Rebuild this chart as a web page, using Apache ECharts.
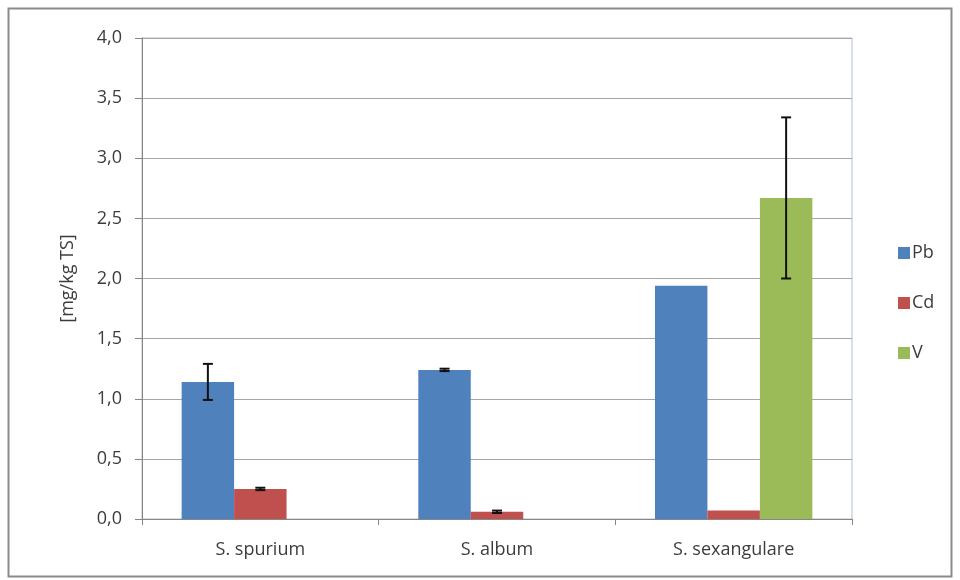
<!DOCTYPE html>
<html>
<head>
<meta charset="utf-8">
<script src="https://cdn.jsdelivr.net/npm/echarts@6/dist/echarts.min.js"></script>
<style>
html,body{margin:0;padding:0;background:#fff;}
#chart{width:960px;height:580px;}
</style>
</head>
<body>
<div id="chart"></div>
<script>
const categories = ['S. spurium', 'S. album', 'S. sexangulare'];
const seriesNames = ['Pb', 'Cd', 'V'];
const pbValues = [1.14, 1.24, 1.94];
const cdValues = [0.25, 0.06, 0.07];
const vValues = [null, null, 2.67];
const pbErrors = [0.15, 0.01, null];
const cdErrors = [0.01, 0.01, null];
const vErrors = [null, null, 0.67];
const yTicks = [0, 0.5, 1, 1.5, 2, 2.5, 3, 3.5, 4];
const colors = ['#4F81BD', '#C0504D', '#9BBB59'];

const values = [pbValues, cdValues, vValues];
const errors = [pbErrors, cdErrors, vErrors];
const CAT_GAP = 0.335;
const FONT = '"Open Sans", "Liberation Sans", sans-serif';
const TXT = '#3c3c3c';

function errorSeries(idx) {
  const data = [];
  categories.forEach((c, i) => {
    if (values[idx][i] != null && errors[idx][i] != null) {
      data.push([i, values[idx][i] - errors[idx][i], values[idx][i] + errors[idx][i]]);
    }
  });
  return {
    type: 'custom',
    name: seriesNames[idx] + '_err',
    z: 10,
    silent: true,
    data: data,
    encode: { x: 0, y: [1, 2] },
    renderItem: function (params, api) {
      const ci = api.value(0);
      const lo = api.coord([ci, api.value(1)]);
      const hi = api.coord([ci, api.value(2)]);
      const band = api.size([1, 0])[0];
      const bw = band * (1 - CAT_GAP) / 3;
      const x = lo[0] + (idx - 1) * bw;
      const cap = 5;
      const style = { stroke: '#111', lineWidth: 2 };
      return {
        type: 'group',
        children: [
          { type: 'line', shape: { x1: x, y1: lo[1], x2: x, y2: hi[1] }, style: style },
          { type: 'line', shape: { x1: x - cap, y1: lo[1], x2: x + cap, y2: lo[1] }, style: style },
          { type: 'line', shape: { x1: x - cap, y1: hi[1], x2: x + cap, y2: hi[1] }, style: style }
        ]
      };
    }
  };
}

const chart = echarts.init(document.getElementById('chart'));
chart.setOption({
  animation: false,
  backgroundColor: '#ffffff',
  textStyle: { fontFamily: FONT },
  graphic: [{
    type: 'rect',
    shape: { x: 8.5, y: 8.5, width: 943, height: 568 },
    style: { fill: 'none', stroke: '#8a8a8a', lineWidth: 2 },
    silent: true
  }],
  grid: {
    left: 142, right: 108, top: 38, bottom: 61,
    show: true, borderColor: '#aebfd6', borderWidth: 1
  },
  legend: {
    data: seriesNames,
    orient: 'vertical',
    left: 893, top: 239,
    icon: 'rect',
    itemWidth: 12, itemHeight: 12,
    itemGap: 32,
    textStyle: { fontSize: 18, color: TXT, fontFamily: FONT, padding: [0, 0, 0, -3] }
  },
  xAxis: {
    type: 'category',
    data: categories,
    axisLine: { lineStyle: { color: '#868686', width: 1 } },
    axisTick: { show: true, alignWithLabel: false, length: 6, lineStyle: { color: '#868686' } },
    axisLabel: { fontSize: 18, color: TXT, margin: 22, fontFamily: FONT }
  },
  yAxis: {
    type: 'value',
    min: 0, max: 4, interval: 0.5,
    name: '[mg/kg TS]',
    nameLocation: 'middle',
    nameGap: 65,
    nameRotate: 90,
    nameTextStyle: { fontSize: 18, color: TXT, fontFamily: FONT },
    axisLine: { show: true, lineStyle: { color: '#868686', width: 1 } },
    axisTick: { show: true, length: 7, lineStyle: { color: '#868686' } },
    splitLine: { lineStyle: { color: '#a6a6a6', width: 1 } },
    axisLabel: {
      fontSize: 18, color: TXT, margin: 20, fontFamily: FONT,
      formatter: v => yTicks.includes(v) ? v.toFixed(1).replace('.', ',') : ''
    }
  },
  series: seriesNames.map((n, i) => ({
    type: 'bar',
    name: n,
    data: values[i],
    barGap: '0%',
    barCategoryGap: (CAT_GAP * 100) + '%',
    itemStyle: { color: colors[i] }
  })).concat([0, 1, 2].map(errorSeries))
});
</script>
</body>
</html>
